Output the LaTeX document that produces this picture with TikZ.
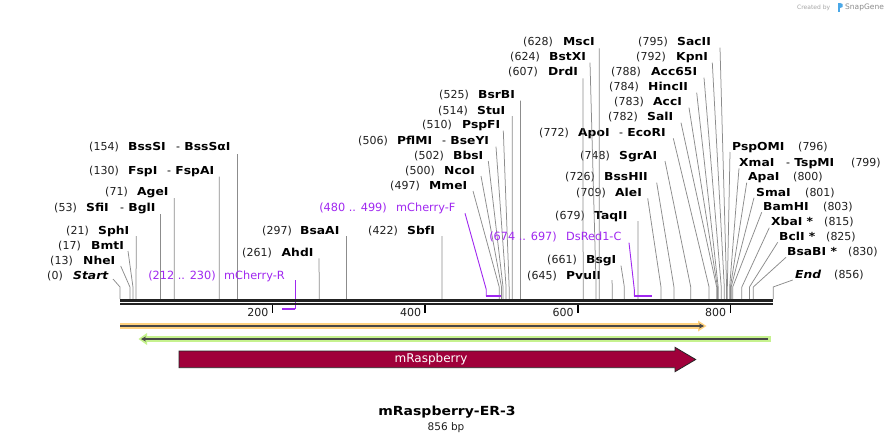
\documentclass[tikz,border=0pt]{standalone}
\usepackage{fontspec}
\setmainfont{DejaVu Sans}[BoldFeatures={FakeStretch=1.12},BoldItalicFeatures={FakeStretch=1.12}]
\usetikzlibrary{arrows.meta}
\definecolor{cutgray}{HTML}{8C8C8C}
\definecolor{primerc}{RGB}{160,40,240}
\definecolor{bbone}{HTML}{222222}
\definecolor{orangef}{HTML}{FFD27F}
\definecolor{greenf}{HTML}{C6F28E}
\definecolor{rasp}{HTML}{A0003A}
\definecolor{trackline}{HTML}{474747}
\definecolor{sgblue}{HTML}{4AA8E8}
\tikzset{
  numlab/.style={inner sep=0pt, font=\fontsize{11}{13}\selectfont, text=black!88},
  enzlab/.style={inner sep=0pt, font=\fontsize{11}{13}\selectfont\bfseries, text=black},
  primlab/.style={inner sep=0pt, font=\fontsize{11.3}{13}\selectfont, text=primerc},
  cutline/.style={draw=cutgray, line width=0.75pt},
  primline/.style={draw=primerc, line width=0.9pt},
  primbar/.style={draw=primerc, line width=2pt},
  backbone/.style={draw=bbone, line width=2.5pt},
  tickmark/.style={draw=black, line width=1.5pt},
  ticklab/.style={inner sep=0pt, font=\fontsize{11}{13}\selectfont, text=black!88},
}
% left-side label: id, number, number right x, name, name left x, y, start x, start y, bp
\newcommand\enzL[9]{%
  \node[numlab, anchor=base east] (#1n) at (#3,#6+4) {#2};
  \node[enzlab, anchor=base west] (#1) at (#5,#6+4) {#4};
  \coordinate (#1s) at (#7,#8);
  \coordinate (#1b) at ({120+#9*0.763},287);
  \coordinate (#1c) at ({120+#9*0.763},299);
  \draw[cutline] (#1s) -- (#1b) -- (#1c);
}
% right-side label: id, name, name left x, number, number left x, y, start x, start y, bp
\newcommand\enzR[9]{%
  \node[enzlab, anchor=base west] (#1) at (#3,#6+4) {#2};
  \node[numlab, anchor=base west] (#1n) at (#5,#6+4) {#4};
  \coordinate (#1s) at (#7,#8);
  \coordinate (#1b) at ({120+#9*0.763},287);
  \coordinate (#1c) at ({120+#9*0.763},299);
  \draw[cutline] (#1s) -- (#1b) -- (#1c);
}
\newcommand\sepdash{{\mdseries -}\ }
\begin{document}
\begin{tikzpicture}[x=1pt,y=-1pt]
\useasboundingbox (0,0) rectangle (894,444);
\fill[white] (0,0) rectangle (894,444);

% ---- enzymes, left group
\enzL{start}{(0)}{63}{\itshape Start}{73}{275}{113}{279}{0}
\enzL{nhe}{(13)}{73}{NheI}{83}{260}{120.7}{266}{13}
\enzL{bmt}{(17)}{81}{BmtI}{91}{245}{128}{251}{17}
\enzL{sph}{(21)}{89}{SphI}{98}{230}{136.3}{236}{21}
\enzL{sfi}{(53)}{77}{SfiI}{86}{207.3}{160.4}{214}{53}
\node[enzlab, anchor=base west] (bgl) at (120,211.3) {\sepdash BglI};
\enzL{age}{(71)}{128}{AgeI}{137}{191.7}{174.2}{198}{71}
\enzL{fsp}{(130)}{119}{FspI}{128}{170}{219.2}{176.7}{130}
\node[enzlab, anchor=base west] (fspa) at (167,174) {\sepdash FspAI};
\enzL{bsssi}{(154)}{119}{BssSI}{128}{146.7}{237.5}{154}{154}
\node[enzlab, anchor=base west] (bsssa) at (176,150.7) {\sepdash BssSαI};
\enzL{ahd}{(261)}{272}{AhdI}{281.5}{252.3}{319.1}{258.3}{261}
\enzL{bsaa}{(297)}{292}{BsaAI}{300}{230}{346.6}{236}{297}
\enzL{sbf}{(422)}{398}{SbfI}{407}{230}{442}{236}{422}
\enzL{mme}{(497)}{420}{MmeI}{429}{185.3}{473}{191}{497}
\enzL{nco}{(500)}{435}{NcoI}{444}{170}{481}{176}{500}
\enzL{bbs}{(502)}{444}{BbsI}{453}{155}{488.3}{161}{502}
\enzL{pflm}{(506)}{388}{PflMI}{397}{140}{496}{146.7}{506}
\node[enzlab, anchor=base west] (bsey) at (442,144) {\sepdash BseYI};
\enzL{pspf}{(510)}{452}{PspFI}{462}{124.3}{503.3}{130.7}{510}
\enzL{stu}{(514)}{468}{StuI}{477}{110}{512.3}{116}{514}
\enzL{bsrb}{(525)}{469}{BsrBI}{478}{95}{520.6}{100.7}{525}
\enzL{pvu}{(645)}{557}{PvuII}{566}{275}{612.1}{280}{645}
\enzL{bsg}{(661)}{577}{BsgI}{586}{259.3}{621}{265.7}{661}
\enzL{taq}{(679)}{585}{TaqII}{594}{215}{638}{221}{679}
\enzL{ale}{(709)}{606}{AleI}{615}{192.3}{647.7}{198.3}{709}
\enzL{bsshii}{(726)}{595}{BssHII}{604}{176.7}{656.7}{182.7}{726}
\enzL{sgra}{(748)}{610}{SgrAI}{619}{155}{665}{161}{748}
\enzL{apo}{(772)}{569}{ApoI}{578}{132}{673.3}{138.3}{772}
\node[enzlab, anchor=base west] (ecori) at (619,136) {\sepdash EcoRI};
\enzL{sal}{(782)}{638}{SalI}{647}{116.7}{681}{122.7}{782}
\enzL{acc}{(783)}{644}{AccI}{653}{101.7}{689}{107.7}{783}
\enzL{hinc}{(784)}{639}{HincII}{648}{86.7}{696.7}{92.7}{784}
\enzL{acc65}{(788)}{641}{Acc65I}{651}{71.7}{704}{77.7}{788}
\enzL{kpn}{(792)}{666}{KpnI}{676}{56.7}{712.3}{62.7}{792}
\enzL{sacii}{(795)}{668}{SacII}{677}{41.7}{720}{47.7}{795}
\enzL{drd}{(607)}{538}{DrdI}{548}{71.7}{583}{78.3}{607}
\enzL{bstx}{(624)}{540}{BstXI}{549}{56.7}{590}{62.7}{624}
\enzL{msc}{(628)}{553}{MscI}{563}{41.7}{599.2}{48.3}{628}

% ---- enzymes, right group
\enzR{pspom}{PspOMI}{732}{(796)}{798}{146.7}{730}{152}{796}
\enzR{xma}{XmaI}{739}{(799)}{851}{162.3}{739}{168.3}{799}
\node[enzlab, anchor=base west] (tspm) at (786,166.3) {\sepdash TspMI};
\enzR{apa}{ApaI}{748}{(800)}{793}{176.7}{746.7}{182.7}{800}
\enzR{sma}{SmaI}{756}{(801)}{805}{192.3}{754}{197.7}{801}
\enzR{bamh}{BamHI}{763}{(803)}{823}{206.7}{761.7}{212.3}{803}
\enzR{xba}{XbaI *}{771}{(815)}{824}{221.7}{769.3}{227.7}{815}
\enzR{bcl}{BclI *}{779}{(825)}{826}{236.7}{777.7}{242.3}{825}
\enzR{bsab}{BsaBI *}{787}{(830)}{848}{251.7}{786}{257.3}{830}
\enzR{end}{\itshape End}{795}{(856)}{834}{274.3}{792.7}{280}{856}

% ---- primers
\node[primlab, anchor=base east] (mcrn) at (216,279) {(212 .. 230)};
\node[primlab, anchor=base west] (mcr) at (224,279) {mCherry-R};
\coordinate (mcrs) at (295.3,280);
\coordinate (mcrb) at (295.3,308.5);
\coordinate (mcre) at (281.8,308.5);
\draw[primline] (mcrs) -- (mcrb);
\draw[primbar] (mcrb) -- (mcre);

\node[primlab, anchor=base east] (mcfn) at (387,211) {(480 .. 499)};
\node[primlab, anchor=base west] (mcf) at (396,211) {mCherry-F};
\coordinate (mcfs) at (465,213.3);
\coordinate (mcfb) at (486.2,289.3);
\coordinate (mcfc) at (486.2,296);
\coordinate (mcfe) at (500.7,296);
\draw[primline] (mcfs) -- (mcfb) -- (mcfc);
\draw[primbar] (mcfc) -- (mcfe);

\node[primlab, anchor=base east] (dsrn) at (557,240.7) {(674 .. 697)};
\node[primlab, anchor=base west] (dsr) at (566,240.7) {DsRed1-C};
\coordinate (dsrs) at (629,242.7);
\coordinate (dsrb) at (634.3,289.5);
\coordinate (dsrc) at (634.3,296);
\coordinate (dsre) at (651.8,296);
\draw[primline] (dsrs) -- (dsrb) -- (dsrc);
\draw[primbar] (dsrc) -- (dsre);

% ---- backbone
\coordinate (bb1l) at (120,300.5);
\coordinate (bb1r) at (773,300.5);
\coordinate (bb2l) at (120,304);
\coordinate (bb2r) at (773,304);
\draw[backbone] (bb1l) -- (bb1r);
\draw[backbone] (bb2l) -- (bb2r);

% ---- ticks
\foreach \v in {200,400,600,800}{
  \coordinate (t\v a) at ({120+\v*0.763},305);
  \coordinate (t\v b) at ({120+\v*0.763},313);
  \draw[tickmark] (t\v a) -- (t\v b);
  \node[ticklab, anchor=base east] (tl\v) at ({116+\v*0.763},316) {\v};
}

% ---- orange feature (forward)
\coordinate (orl) at (120,326);
\coordinate (orr) at (700,326);
\draw[draw=orangef, line width=5.5pt] (orl) -- (orr);
\fill[orangef] (698,320.5) -- (706.5,326) -- (698,331.5) -- cycle;
\draw[draw=trackline, line width=1.6pt, -{Stealth[length=5pt,width=5pt]}] (orl) -- (704,326);

% ---- green feature (reverse)
\coordinate (grl) at (146,339);
\coordinate (grr) at (771,339);
\draw[draw=greenf, line width=6pt] (grl) -- (grr);
\fill[greenf] (147,333) -- (138.5,339) -- (147,345) -- cycle;
\draw[draw=trackline, line width=1.6pt, -{Stealth[length=5pt,width=5pt]}] (768,339) -- (141,339);

% ---- mRaspberry feature
\draw[fill=rasp, draw=black!85, line width=0.8pt]
  (179,351) -- (675,351) -- (675,347.3) -- (695.7,359.5) -- (675,371.7) -- (675,367.7) -- (179,367.7) -- cycle;
\node[inner sep=0pt, font=\fontsize{12}{14}\selectfont, text=white] (mrasp) at (431,359.5) {mRaspberry};

% ---- title
\node[inner sep=0pt, font=\fontsize{12.5}{15}\selectfont\bfseries, text=black] (title) at (447,412) {mRaspberry-ER-3};
\node[inner sep=0pt, font=\fontsize{10.5}{12}\selectfont, text=black!88] (len) at (446,428) {856 bp};

% ---- credit
\node[inner sep=0pt, anchor=base west, font=\fontsize{6}{7}\selectfont, text=black!35] (credit) at (797,9.5) {Created by};
\fill[sgblue] (837.5,3) rectangle (840,12);
\fill[sgblue] (840,3) -- (842.5,4) -- (842.5,7) -- (840,8) -- cycle;
\node[inner sep=0pt, anchor=base west, font=\fontsize{7.5}{9}\selectfont, text=black!45] (sg) at (845,10) {SnapGene};
\end{tikzpicture}
\end{document}
